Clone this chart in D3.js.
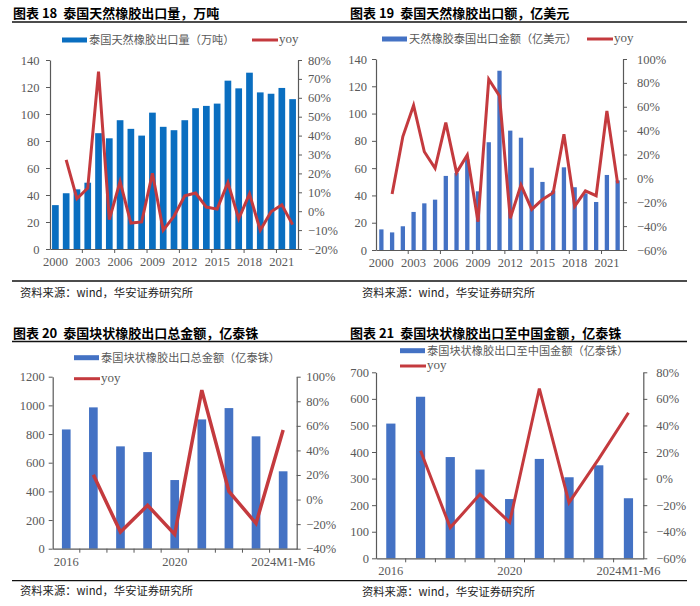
<!DOCTYPE html>
<html><head><meta charset="utf-8">
<script src="https://cdn.jsdelivr.net/npm/d3@7/dist/d3.min.js"></script>
<style>body{margin:0;background:#fff}svg{display:block}</style>
</head><body><svg id="c" width="700" height="606"></svg>
<script>
// ---------- Data ----------
const years1 = ["2000","2001","2002","2003","2004","2005","2006","2007","2008","2009","2010","2011","2012","2013","2014","2015","2016","2017","2018","2019","2020","2021","2022"];
const exportVolume = [32.5,41.3,44.2,49.1,85.8,82,95.4,89,84,101,90.5,88,95.4,104.3,106,107.7,124.7,119,130.6,116,115,119.3,111];
const exportVolumeYoy = [null,0.272,0.066,0.122,0.738,-0.045,0.157,-0.063,-0.057,0.201,-0.101,-0.027,0.082,0.096,0.022,0.011,0.152,-0.041,0.092,-0.101,-0.003,0.034,-0.071];
const xLabels1 = ["2000","2003","2006","2009","2012","2015","2018","2021"];

const years2 = years1;
const exportValueUSD = [15.1,12.9,17.4,27.9,34.2,36.9,54.3,56.5,66.5,43,79,131.4,87.5,82.3,60.3,49.9,43.5,60.6,46,41.5,35.2,55,51];
const exportValueUSDYoy = [null,-0.131,0.35,0.612,0.223,0.084,0.467,0.048,0.196,-0.363,0.83,0.69,-0.335,-0.056,-0.26,-0.176,-0.12,0.37,-0.233,-0.104,-0.145,0.564,-0.042];
const xLabels2 = xLabels1;

const years3 = ["2016","2017","2018","2019","2020","2021","2022","2023","2024M1-M6"];
const blockTotal = [832,986,714,674,479,902,981,784,540];
const blockTotalYoy = [null,0.202,-0.265,-0.047,-0.283,0.891,0.067,-0.194,0.566];
const xLabels3 = ["2016","2020","2024M1-M6"];

const years4 = years3;
const blockChina = [507,608,381,334,223,374,305,350,226];
const blockChinaYoy = [null,0.21,-0.369,-0.118,-0.329,0.678,-0.181,0.148,0.496];
const xLabels4 = xLabels3;

const titles = ["图表 18  泰国天然橡胶出口量，万吨","图表 19  泰国天然橡胶出口额，亿美元","图表 20  泰国块状橡胶出口总金额，亿泰铢","图表 21  泰国块状橡胶出口至中国金额，亿泰铢"];
const barLegends = ["泰国天然橡胶出口量（万吨）","天然橡胶泰国出口金额（亿美元）","泰国块状橡胶出口总金额（亿泰铢）","泰国块状橡胶出口至中国金额（亿泰铢）"];
const lineLegend = "yoy";
const sourceText = "资料来源：wind，华安证券研究所";

// ---------- Drawing ----------
const svg = d3.select("#c");
const RED = "#C43A3E";
const SERIF = "'Liberation Serif','Times New Roman',serif";
const CJK = "'Noto Sans CJK SC','Noto Sans',sans-serif";
const AXIS = "#595959";

// frame lines and headers
[[22,0],[281,0],[341.5,1],[580.7,1]].forEach(([y])=>{
  svg.append("line").attr("x1",12).attr("x2",687).attr("y1",y).attr("y2",y)
    .attr("stroke","#111").attr("stroke-width",1.3);
});

const panels = [
  {title:titles[0], tx:13, ty:18, src:[20,297], cats:years1, bars:exportVolume, yoy:exportVolumeYoy, xl:xLabels1,
   L:50,R:298,T:60,B:249, lMax:140,lStep:20, rDom:[-0.2,0.8], rStep:0.1, color:"#0A6EC0", barR:0.62, tickEvery:3,
   lPad:10.5, rPad:6, xLabY:267, lw:3,
   legend:{type:"row", bx:62, by:40, text:barLegends[0], rx:252}},
  {title:titles[1], tx:350, ty:18, src:[362,297], cats:years2, bars:exportValueUSD, yoy:exportValueUSDYoy, xl:xLabels2,
   L:376,R:623,T:59,B:250, lMax:140,lStep:20, rDom:[-0.6,1.0], rStep:0.2, color:"#4472C4", barR:0.4, tickEvery:3,
   lPad:9, rPad:10, xLabY:268, lw:3,
   legend:{type:"row", bx:382, by:39, text:barLegends[1], rx:587}},
  {title:titles[2], tx:13, ty:337.5, src:[20,595], cats:years3, bars:blockTotal, yoy:blockTotalYoy, xl:xLabels3,
   L:52.7,R:296.7,T:376.7,B:548.7, lMax:1200,lStep:200, rDom:[-0.4,1.0], rStep:0.2, color:"#4472C4", barR:0.32, tickEvery:1,
   lPad:8, rPad:5.5, xLabY:567, lw:3.5,
   legend:{type:"col", bx:74, by:357.7, by2:378.7, text:barLegends[2]}},
  {title:titles[3], tx:350, ty:337.5, src:[362,595.5], cats:years4, bars:blockChina, yoy:blockChinaYoy, xl:xLabels4,
   L:376,R:643.3,T:372.3,B:558.3, lMax:700,lStep:100, rDom:[-0.6,0.8], rStep:0.2, color:"#4472C4", barR:0.31, tickEvery:1,
   lPad:7, rPad:9, xLabY:576, lw:3,
   legend:{type:"col", bx:400, by:350.7, by2:366, text:barLegends[3]}}
];

panels.forEach(p=>{
  // title
  svg.append("text").attr("x",p.tx).attr("y",p.ty).text(p.title)
    .attr("font-family",CJK).attr("font-weight",700).attr("font-size",13).attr("fill","#000")
    .style("white-space","pre").attr("xml:space","preserve");
  // source
  svg.append("text").attr("x",p.src[0]).attr("y",p.src[1]).text(sourceText)
    .attr("font-family",CJK).attr("font-size",11.3).attr("fill","#222");

  const x = d3.scaleBand().domain(p.cats).range([p.L,p.R]).paddingInner(0).paddingOuter(0);
  const yL = d3.scaleLinear().domain([0,p.lMax]).range([p.B,p.T]);
  const yR = d3.scaleLinear().domain(p.rDom).range([p.B,p.T]);
  const g = svg.append("g");

  // bars
  const bw = x.bandwidth()*p.barR;
  g.selectAll("rect.bar").data(p.cats).enter().append("rect")
    .attr("x",(d)=>x(d)+(x.bandwidth()-bw)/2)
    .attr("width",bw)
    .attr("y",(d,i)=>yL(p.bars[i]))
    .attr("height",(d,i)=>yL(0)-yL(p.bars[i]))
    .attr("fill",p.color);

  // line
  const pts = p.cats.map((c,i)=>[c,p.yoy[i]]).filter(d=>d[1]!=null);
  const line = d3.line().x(d=>x(d[0])+x.bandwidth()/2).y(d=>yR(d[1]));
  g.append("path").datum(pts).attr("d",line).attr("fill","none")
    .attr("stroke",RED).attr("stroke-width",p.lw).attr("stroke-linejoin","miter");

  // left axis
  const lTicks = d3.range(0,p.lMax+0.001,p.lStep);
  const aL = g.append("g").attr("transform",`translate(${p.L},0)`)
    .call(d3.axisLeft(yL).tickValues(lTicks).tickSize(4).tickPadding(p.lPad-4).tickSizeOuter(0).tickFormat(d3.format("d")));
  // right axis
  const n = Math.round((p.rDom[1]-p.rDom[0])/p.rStep);
  const rTicks = d3.range(0,n+1).map(k=>+(p.rDom[0]+k*p.rStep).toFixed(3));
  const aR = g.append("g").attr("transform",`translate(${p.R},0)`)
    .call(d3.axisRight(yR).tickValues(rTicks).tickSize(4).tickPadding(p.rPad-4+4).tickSizeOuter(0).tickFormat(d3.format(".0%")));
  [aL,aR].forEach(a=>{
    a.select(".domain").attr("stroke",AXIS).attr("stroke-width",1.2);
    a.selectAll(".tick line").attr("stroke",AXIS);
    a.selectAll(".tick text").attr("font-family",SERIF).attr("font-size",12.5).attr("fill","#595959");
  });
  // bottom axis
  const aB = g.append("g").attr("transform",`translate(0,${p.B})`)
    .call(d3.axisBottom(x).tickValues(p.xl).tickSize(0).tickPadding(p.xLabY-p.B-10));
  aB.select(".domain").attr("stroke",AXIS).attr("stroke-width",1.2);
  aB.selectAll(".tick text").attr("font-family",SERIF).attr("font-size",12.5).attr("fill","#595959");
  // category-boundary ticks
  const bTicks = p.cats.filter((c,i)=>i%p.tickEvery===0).slice(1);
  g.selectAll("line.bt").data(bTicks).enter().append("line")
    .attr("x1",d=>x(d)).attr("x2",d=>x(d)).attr("y1",p.B).attr("y2",p.B+4)
    .attr("stroke",AXIS);

  // legend
  const lg = p.legend;
  const sw = 25;
  svg.append("rect").attr("x",lg.bx).attr("y",lg.by-2.5).attr("width",sw).attr("height",5).attr("fill",p.color);
  svg.append("text").attr("x",lg.bx+sw+2).attr("y",lg.by+4).text(lg.text)
    .attr("font-family",CJK).attr("font-size",11.2).attr("fill","#595959");
  let rx, ry;
  if(lg.type==="row"){ rx = lg.rx; ry = lg.by; } else { rx = lg.bx; ry = lg.by2; }
  svg.append("line").attr("x1",rx).attr("x2",rx+sw+1).attr("y1",ry).attr("y2",ry)
    .attr("stroke",RED).attr("stroke-width",3);
  svg.append("text").attr("x",rx+sw+2).attr("y",ry+3).text(lineLegend)
    .attr("font-family",SERIF).attr("font-size",13).attr("fill","#595959");
});
</script>
</body></html>
